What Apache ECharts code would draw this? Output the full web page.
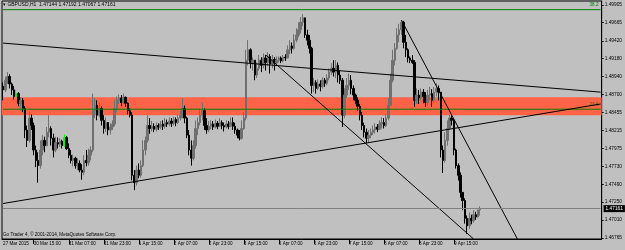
<!DOCTYPE html>
<html>
<head>
<meta charset="utf-8">
<script src="https://cdn.jsdelivr.net/npm/echarts@6/dist/echarts.min.js"></script>
<style>
  html, body { margin: 0; padding: 0; background: #c0c0c0; }
  #chart { width: 625px; height: 250px; }
</style>
</head>
<body>
<div id="chart"></div>
<script>
// GBPUSD H1, 27 Mar - 9 Apr 2015
const header = '\u25BE GBPUSD,H1  1.47144 1.47192 1.47067 1.47161'
const footer = 'Go Trader 4, \u00A9 2001-2014, MetaQuotes Software Corp.'

const opens = [
  1.4881, 1.4876, 1.4889, 1.4894, 1.4884, 1.4876, 1.4867, 1.4871, 1.4858, 1.4862,
  1.4851, 1.4822, 1.4808, 1.4838, 1.4828, 1.4795, 1.4781, 1.4774, 1.4795, 1.4808,
  1.4801, 1.4819, 1.4824, 1.4811, 1.4795, 1.4805, 1.4803, 1.4807, 1.4801, 1.4812,
  1.4797, 1.4788, 1.4781, 1.4784, 1.4774, 1.4777, 1.4768, 1.4765, 1.4781, 1.4778,
  1.4788, 1.4795, 1.4848, 1.4855, 1.4842, 1.4851, 1.4835, 1.4824, 1.4832, 1.4822,
  1.4826, 1.4830, 1.4851, 1.4862, 1.4865, 1.4859, 1.4866, 1.4858, 1.4848, 1.4842,
  1.4761, 1.4751, 1.4768, 1.4761, 1.4774, 1.4795, 1.4808, 1.4828, 1.4824, 1.4827,
  1.4823, 1.4828, 1.4826, 1.4830, 1.4827, 1.4832, 1.4830, 1.4834, 1.4831, 1.4836,
  1.4832, 1.4838, 1.4842, 1.4851, 1.4838, 1.4815, 1.4795, 1.4784, 1.4801, 1.4824,
  1.4832, 1.4842, 1.4848, 1.4828, 1.4822, 1.4827, 1.4830, 1.4826, 1.4831, 1.4827,
  1.4832, 1.4828, 1.4826, 1.4830, 1.4827, 1.4832, 1.4827, 1.4822, 1.4815, 1.4811,
  1.4824, 1.4838, 1.4916, 1.4930, 1.4913, 1.4916, 1.4896, 1.4905, 1.4916, 1.4909,
  1.4919, 1.4913, 1.4921, 1.4911, 1.4917, 1.4912, 1.4916, 1.4919, 1.4915, 1.4920,
  1.4919, 1.4930, 1.4935, 1.4932, 1.4943, 1.4950, 1.4957, 1.4967, 1.4973, 1.4950,
  1.4943, 1.4932, 1.4882, 1.4886, 1.4878, 1.4884, 1.4881, 1.4889, 1.4885, 1.4892,
  1.4900, 1.4905, 1.4900, 1.4909, 1.4896, 1.4889, 1.4842, 1.4869, 1.4882, 1.4889,
  1.4878, 1.4869, 1.4862, 1.4854, 1.4842, 1.4828, 1.4819, 1.4811, 1.4815, 1.4819,
  1.4822, 1.4826, 1.4823, 1.4830, 1.4832, 1.4828, 1.4838, 1.4855, 1.4889, 1.4916,
  1.4932, 1.4950, 1.4957, 1.4967, 1.4940, 1.4930, 1.4919, 1.4916, 1.4913, 1.4862,
  1.4869, 1.4865, 1.4873, 1.4867, 1.4859, 1.4869, 1.4871, 1.4862, 1.4873, 1.4878,
  1.4873, 1.4795, 1.4781, 1.4808, 1.4824, 1.4838, 1.4835, 1.4795, 1.4774, 1.4761,
  1.4738, 1.4727, 1.4703, 1.4693, 1.4703, 1.4700, 1.4708, 1.4705, 1.47144
]
const closes = [
  1.4876, 1.4889, 1.4894, 1.4884, 1.4876, 1.4867, 1.4871, 1.4858, 1.4862, 1.4851,
  1.4822, 1.4808, 1.4838, 1.4828, 1.4795, 1.4781, 1.4774, 1.4795, 1.4808, 1.4801,
  1.4819, 1.4824, 1.4811, 1.4795, 1.4805, 1.4803, 1.4807, 1.4801, 1.4812, 1.4797,
  1.4788, 1.4781, 1.4784, 1.4774, 1.4777, 1.4768, 1.4765, 1.4781, 1.4778, 1.4788,
  1.4795, 1.4848, 1.4855, 1.4842, 1.4851, 1.4835, 1.4824, 1.4832, 1.4822, 1.4826,
  1.4830, 1.4851, 1.4862, 1.4865, 1.4859, 1.4866, 1.4858, 1.4848, 1.4842, 1.4761,
  1.4751, 1.4768, 1.4761, 1.4774, 1.4795, 1.4808, 1.4828, 1.4824, 1.4827, 1.4823,
  1.4828, 1.4826, 1.4830, 1.4827, 1.4832, 1.4830, 1.4834, 1.4831, 1.4836, 1.4832,
  1.4838, 1.4842, 1.4851, 1.4838, 1.4815, 1.4795, 1.4784, 1.4801, 1.4824, 1.4832,
  1.4842, 1.4848, 1.4828, 1.4822, 1.4827, 1.4830, 1.4826, 1.4831, 1.4827, 1.4832,
  1.4828, 1.4826, 1.4830, 1.4827, 1.4832, 1.4827, 1.4822, 1.4815, 1.4811, 1.4824,
  1.4838, 1.4916, 1.4930, 1.4913, 1.4916, 1.4896, 1.4905, 1.4916, 1.4909, 1.4919,
  1.4913, 1.4921, 1.4911, 1.4917, 1.4912, 1.4916, 1.4919, 1.4915, 1.4920, 1.4919,
  1.4930, 1.4935, 1.4932, 1.4943, 1.4950, 1.4957, 1.4967, 1.4973, 1.4950, 1.4943,
  1.4932, 1.4882, 1.4886, 1.4878, 1.4884, 1.4881, 1.4889, 1.4885, 1.4892, 1.4900,
  1.4905, 1.4900, 1.4909, 1.4896, 1.4889, 1.4842, 1.4869, 1.4882, 1.4889, 1.4878,
  1.4869, 1.4862, 1.4854, 1.4842, 1.4828, 1.4819, 1.4811, 1.4815, 1.4819, 1.4822,
  1.4826, 1.4823, 1.4830, 1.4832, 1.4828, 1.4838, 1.4855, 1.4889, 1.4916, 1.4932,
  1.4950, 1.4957, 1.4967, 1.4940, 1.4930, 1.4919, 1.4916, 1.4913, 1.4862, 1.4869,
  1.4865, 1.4873, 1.4867, 1.4859, 1.4869, 1.4871, 1.4862, 1.4873, 1.4878, 1.4873,
  1.4795, 1.4781, 1.4808, 1.4824, 1.4838, 1.4835, 1.4795, 1.4774, 1.4761, 1.4738,
  1.4727, 1.4703, 1.4693, 1.4703, 1.4700, 1.4708, 1.4705, 1.47144, 1.47161
]
const highs = [
  1.4886, 1.4894, 1.4900, 1.4897, 1.4886, 1.4881, 1.4876, 1.4873, 1.4866, 1.4865,
  1.4854, 1.4828, 1.4846, 1.4843, 1.4832, 1.4801, 1.4792, 1.4808, 1.4815, 1.4813,
  1.4826, 1.4842, 1.4827, 1.4817, 1.4813, 1.4812, 1.4811, 1.4809, 1.4816, 1.4814,
  1.4804, 1.4795, 1.4789, 1.4786, 1.4784, 1.4781, 1.4776, 1.4788, 1.4795, 1.4797,
  1.4800, 1.4871, 1.4865, 1.4862, 1.4859, 1.4854, 1.4842, 1.4839, 1.4830, 1.4831,
  1.4835, 1.4862, 1.4867, 1.4870, 1.4869, 1.4871, 1.4867, 1.4859, 1.4851, 1.4846,
  1.4768, 1.4774, 1.4777, 1.4781, 1.4808, 1.4813, 1.4842, 1.4838, 1.4834, 1.4831,
  1.4832, 1.4831, 1.4834, 1.4835, 1.4838, 1.4836, 1.4839, 1.4838, 1.4840, 1.4839,
  1.4843, 1.4848, 1.4865, 1.4855, 1.4840, 1.4822, 1.4808, 1.4808, 1.4835, 1.4839,
  1.4851, 1.4859, 1.4851, 1.4838, 1.4834, 1.4835, 1.4834, 1.4836, 1.4834, 1.4838,
  1.4835, 1.4832, 1.4835, 1.4834, 1.4839, 1.4839, 1.4832, 1.4824, 1.4822, 1.4835,
  1.4846, 1.4930, 1.4943, 1.4932, 1.4920, 1.4913, 1.4913, 1.4923, 1.4920, 1.4925,
  1.4923, 1.4927, 1.4924, 1.4923, 1.4920, 1.4921, 1.4921, 1.4921, 1.4923, 1.4924,
  1.4936, 1.4943, 1.4940, 1.4951, 1.4959, 1.4967, 1.4974, 1.4978, 1.4973, 1.4957,
  1.4950, 1.4934, 1.4892, 1.4889, 1.4890, 1.4889, 1.4893, 1.4892, 1.4897, 1.4905,
  1.4912, 1.4916, 1.4916, 1.4913, 1.4902, 1.4892, 1.4878, 1.4892, 1.4898, 1.4896,
  1.4882, 1.4871, 1.4866, 1.4857, 1.4846, 1.4832, 1.4824, 1.4822, 1.4824, 1.4828,
  1.4831, 1.4830, 1.4835, 1.4839, 1.4838, 1.4844, 1.4865, 1.4898, 1.4930, 1.4939,
  1.4959, 1.4965, 1.4970, 1.4969, 1.4950, 1.4932, 1.4921, 1.4923, 1.4916, 1.4878,
  1.4876, 1.4878, 1.4877, 1.4873, 1.4876, 1.4880, 1.4877, 1.4880, 1.4885, 1.4882,
  1.4873, 1.4801, 1.4819, 1.4835, 1.4842, 1.4843, 1.4838, 1.4797, 1.4777, 1.4765,
  1.4738, 1.4730, 1.4707, 1.4711, 1.4708, 1.4714, 1.4712, 1.4715, 1.47192
]
const lows = [
  1.4862, 1.4873, 1.4884, 1.4878, 1.4869, 1.4863, 1.4863, 1.4854, 1.4848, 1.4846,
  1.4811, 1.4799, 1.4805, 1.4822, 1.4788, 1.4772, 1.4751, 1.4770, 1.4788, 1.4792,
  1.4800, 1.4812, 1.4801, 1.4785, 1.4792, 1.4797, 1.4799, 1.4797, 1.4799, 1.4795,
  1.4784, 1.4777, 1.4773, 1.4770, 1.4768, 1.4765, 1.4755, 1.4761, 1.4773, 1.4774,
  1.4781, 1.4792, 1.4838, 1.4835, 1.4839, 1.4828, 1.4817, 1.4819, 1.4815, 1.4816,
  1.4822, 1.4827, 1.4846, 1.4857, 1.4854, 1.4857, 1.4853, 1.4843, 1.4839, 1.4754,
  1.4741, 1.4747, 1.4757, 1.4758, 1.4772, 1.4788, 1.4805, 1.4817, 1.4820, 1.4819,
  1.4820, 1.4822, 1.4823, 1.4822, 1.4824, 1.4826, 1.4827, 1.4826, 1.4828, 1.4827,
  1.4830, 1.4835, 1.4838, 1.4831, 1.4811, 1.4788, 1.4774, 1.4781, 1.4797, 1.4815,
  1.4828, 1.4835, 1.4822, 1.4817, 1.4819, 1.4823, 1.4822, 1.4824, 1.4823, 1.4826,
  1.4823, 1.4820, 1.4824, 1.4823, 1.4826, 1.4822, 1.4817, 1.4811, 1.4808, 1.4809,
  1.4822, 1.4835, 1.4909, 1.4905, 1.4902, 1.4889, 1.4892, 1.4902, 1.4900, 1.4905,
  1.4902, 1.4908, 1.4898, 1.4905, 1.4902, 1.4908, 1.4913, 1.4912, 1.4913, 1.4915,
  1.4919, 1.4924, 1.4925, 1.4930, 1.4940, 1.4947, 1.4952, 1.4962, 1.4946, 1.4936,
  1.4925, 1.4871, 1.4873, 1.4871, 1.4876, 1.4874, 1.4878, 1.4880, 1.4882, 1.4889,
  1.4896, 1.4894, 1.4892, 1.4886, 1.4884, 1.4826, 1.4838, 1.4865, 1.4876, 1.4870,
  1.4862, 1.4857, 1.4848, 1.4835, 1.4822, 1.4812, 1.4804, 1.4805, 1.4811, 1.4815,
  1.4817, 1.4819, 1.4822, 1.4824, 1.4824, 1.4826, 1.4835, 1.4855, 1.4886, 1.4909,
  1.4930, 1.4940, 1.4950, 1.4932, 1.4920, 1.4913, 1.4912, 1.4911, 1.4853, 1.4857,
  1.4857, 1.4862, 1.4858, 1.4853, 1.4855, 1.4862, 1.4853, 1.4858, 1.4867, 1.4862,
  1.4785, 1.4764, 1.4778, 1.4801, 1.4822, 1.4828, 1.4788, 1.4770, 1.4754, 1.4731,
  1.4714, 1.4696, 1.4682, 1.4689, 1.4695, 1.4697, 1.4701, 1.4704, 1.47067
]
// bars drawn in the "bar up" colour
const greenBars = [6, 28]

// time axis: 274 hourly slots (219 bars + chart shift on the right)
const slotCount = 274
const xLabelIdx = [0, 14, 30, 46, 62, 78, 94, 110, 126, 142, 158, 174, 190, 206]
const xLabelText = ['27 Mar 2015', '30 Mar 15:00', '31 Mar 07:00', '31 Mar 23:00', '1 Apr 15:00',
  '2 Apr 07:00', '2 Apr 23:00', '3 Apr 15:00', '6 Apr 07:00', '6 Apr 23:00', '7 Apr 15:00',
  '8 Apr 07:00', '8 Apr 23:00', '9 Apr 15:00']

const priceTicks = [1.49905, 1.49665, 1.49420, 1.49180, 1.48940, 1.48700, 1.48455,
  1.48215, 1.47975, 1.47730, 1.47490, 1.47250, 1.47010, 1.46765]
const priceMin = 1.46752
const priceMax = 1.49957
const bid = 1.47161

// objects drawn on the chart: [startSlot, startPrice, endSlot, endPrice]
const trendLines = [
  [0, 1.4939, 273, 1.4873],
  [0, 1.4723, 273, 1.4857],
  [120, 1.4923, 214.5, 1.46752],
  [182, 1.4970, 235, 1.46752]
]
const fiboLevels = [[1.4984, '38.2'], [1.4850, '23.6']]
const zone = [1.4866, 1.4842]

const categories = []
for (let i = 0; i < slotCount; i++) categories.push(String(i))

const candles = opens.map((o, i) => {
  const item = { value: [o, closes[i], lows[i], highs[i]] }
  if (greenBars.includes(i)) {
    item.itemStyle = { color: '#00ff00', color0: '#00ff00', borderColor: '#00ff00', borderColor0: '#00ff00' }
  }
  return item
})

const font = 'Liberation Sans, sans-serif'
const lastSlot = slotCount - 1

// fibo levels as plain line series across the whole chart
const fiboSeries = fiboLevels.map(f => ({
  type: 'line',
  z: 8,
  silent: true,
  symbol: 'circle',
  symbolSize: 0,
  showSymbol: true,
  lineStyle: { color: '#008000', width: 1 },
  itemStyle: { color: '#008000' },
  data: [
    [0, f[0]],
    {
      value: [lastSlot, f[0]],
      label: {
        show: true, formatter: f[1], position: [-11, -7], color: '#008000',
        fontSize: 4.6, fontFamily: font
      }
    }
  ]
}))

const myChart = echarts.init(document.getElementById('chart'))
const option = {
  backgroundColor: '#c0c0c0',
  animation: false,
  textStyle: { fontFamily: font },
  title: [
    { text: header, left: 3, top: 2, padding: 0, textStyle: { fontSize: 5, fontWeight: 'normal', color: '#000', fontFamily: font } },
    { text: footer, left: 3, top: 232, padding: 0, textStyle: { fontSize: 4.6, fontWeight: 'normal', color: '#000', fontFamily: font } }
  ],
  grid: { left: 2, right: 23, top: 1, bottom: 11, show: true, borderColor: '#000', borderWidth: 1, backgroundColor: '#c0c0c0' },
  xAxis: {
    type: 'category',
    data: categories,
    boundaryGap: true,
    axisLine: { show: true, lineStyle: { color: '#000' } },
    axisTick: {
      show: true, alignWithLabel: true, length: 5,
      interval: (idx) => xLabelIdx.includes(idx) && idx > 0,
      lineStyle: { color: '#000' }
    },
    axisLabel: {
      interval: (idx) => xLabelIdx.includes(idx),
      formatter: (val, idx) => xLabelText[xLabelIdx.indexOf(idx)] || '',
      showMinLabel: true, hideOverlap: false,
      align: 'left', margin: 2, fontSize: 4.6, color: '#000', fontFamily: font
    },
    splitLine: { show: false }
  },
  yAxis: {
    type: 'value',
    position: 'right',
    min: priceMin,
    max: priceMax,
    scale: true,
    axisLine: { show: true, lineStyle: { color: '#000' } },
    axisTick: { show: true, length: 2, customValues: priceTicks, lineStyle: { color: '#000' } },
    axisLabel: {
      customValues: priceTicks, margin: 3, fontSize: 4.8, color: '#000', fontFamily: font,
      formatter: (v) => v.toFixed(5)
    },
    splitLine: { show: false }
  },
  series: [
    {
      type: 'candlestick',
      z: 2,
      data: candles,
      barWidth: 2,
      itemStyle: { color: '#707070', color0: '#000', borderColor: '#707070', borderColor0: '#000', borderWidth: 1 },
      markArea: {
        silent: true,
        itemStyle: { color: '#ff6347', opacity: 1 },
        data: [[{ yAxis: zone[0] }, { yAxis: zone[1] }]]
      }
    },
    ...fiboSeries,
    {
      // carrier for the drawn objects (trend lines, bid line)
      type: 'line',
      z: 10,
      data: [],
      silent: true,
      markLine: {
        silent: true,
        z: 10,
        symbol: ['none', 'none'],
        animation: false,
        lineStyle: { color: '#000', width: 1, type: 'solid' },
        label: { show: false },
        data: [
          ...trendLines.map(t => [{ coord: [t[0], t[1]] }, { coord: [t[2], t[3]] }]),
          [
            {
              coord: [0, bid],
              lineStyle: { color: '#808080', width: 1, type: 'solid' },
              label: {
                show: true, position: 'end', formatter: bid.toFixed(5), color: '#fff',
                backgroundColor: '#000', fontSize: 4.8, padding: [1, 2], distance: 3, fontFamily: font
              }
            },
            { coord: [lastSlot, bid] }
          ]
        ]
      }
    }
  ]
}
option && myChart.setOption(option)
</script>
</body>
</html>
